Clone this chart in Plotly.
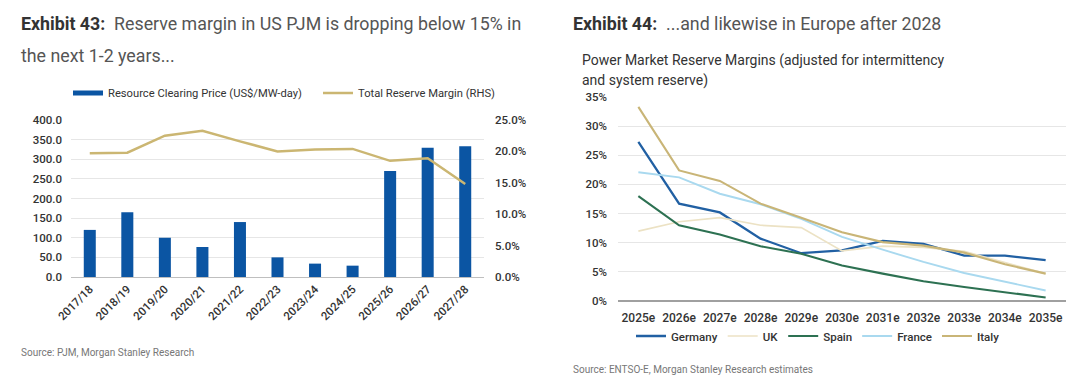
import plotly.graph_objects as go

# ---- Exhibit 43 data ----
years_pjm = ["2017/18", "2018/19", "2019/20", "2020/21", "2021/22", "2022/23",
             "2023/24", "2024/25", "2025/26", "2026/27", "2027/28"]
clearing_price = [120.0, 164.8, 100.0, 76.5, 140.0, 50.0, 34.1, 28.9, 269.9, 329.2, 333.4]
reserve_margin = [0.197, 0.198, 0.225, 0.233, 0.216, 0.200, 0.203, 0.204, 0.185, 0.189, 0.148]

# ---- Exhibit 44 data ----
years_eu = ["2025e", "2026e", "2027e", "2028e", "2029e", "2030e",
            "2031e", "2032e", "2033e", "2034e", "2035e"]
germany = [0.273, 0.167, 0.152, 0.107, 0.082, 0.087, 0.103, 0.098, 0.078, 0.078, 0.070]
uk = [0.120, 0.136, 0.143, 0.130, 0.126, 0.086, 0.094, 0.092, 0.085, 0.066, 0.047]
spain = [0.180, 0.130, 0.114, 0.094, 0.081, 0.061, 0.047, 0.034, 0.024, 0.015, 0.006]
france = [0.221, 0.212, 0.184, 0.166, 0.141, 0.110, 0.088, 0.067, 0.048, 0.033, 0.018]
italy = [0.333, 0.224, 0.206, 0.167, 0.143, 0.118, 0.101, 0.095, 0.083, 0.063, 0.047]

FONT = "Roboto"
GRID = "#e6e6e6"
TICK = "#333333"

# page has an 8px body margin: size the figure to fit inside the window
OFF = 8
W, H = 1080 - OFF, 391 - OFF


def fx(px):
    return (px - OFF) / W


def fy(py):
    return 1 - (py - OFF) / H


fig = go.Figure()

# Left chart
fig.add_trace(go.Bar(x=years_pjm, y=clearing_price, marker_color="#0b55a3", width=0.32,
                     showlegend=False, xaxis="x", yaxis="y"))
fig.add_trace(go.Scatter(x=[None], y=[None], mode="lines", line=dict(color="#0b55a3", width=5),
                         name="Resource Clearing Price (US$/MW-day)\u00a0\u00a0\u00a0\u00a0",
                         legend="legend", xaxis="x", yaxis="y"))
fig.add_trace(go.Scatter(x=years_pjm, y=reserve_margin, mode="lines",
                         line=dict(color="#cbb672", width=2.5),
                         name="Total Reserve Margin (RHS)", legend="legend",
                         xaxis="x", yaxis="y2"))

# Right chart
eu_series = [("Germany", germany, "#2160a3", 2.3), ("UK", uk, "#ece2c4", 1.7),
             ("Spain", spain, "#2d7152", 2.1), ("France", france, "#a9d9ef", 1.9),
             ("Italy", italy, "#c9b577", 2.1)]
for name, vals, col, w in eu_series:
    fig.add_trace(go.Scatter(x=years_eu, y=vals, mode="lines", name=name,
                             line=dict(color=col, width=w), legend="legend2",
                             xaxis="x2", yaxis="y3"))

tf = dict(size=11.5, color=TICK, weight=500)

fig.update_layout(
    template="none",
    width=W, height=H,
    margin=dict(l=0, r=0, t=0, b=0, autoexpand=False),
    paper_bgcolor="white", plot_bgcolor="white",
    font=dict(family=FONT, size=11, color=TICK),
    xaxis=dict(domain=[fx(71), fx(484)], type="category", range=[-0.5, 10.5],
               tickangle=-45, showgrid=False, showline=True, linecolor="#bfbfbf",
               linewidth=1, ticks="", automargin=False, tickfont=tf),
    yaxis=dict(domain=[fy(277), fy(120)], range=[0, 400], dtick=50, tickformat=".1f",
               gridcolor=GRID, zeroline=False, tickfont=tf, ticklabelstandoff=8,
               ticks="", automargin=False, showline=False),
    yaxis2=dict(domain=[fy(277), fy(120)], overlaying="y", side="right", anchor="x",
                range=[0, 0.25], dtick=0.05, tickformat=".1%", showgrid=False,
                zeroline=False, automargin=False, ticks="", showline=False,
                ticklabelstandoff=10, tickfont=tf),
    xaxis2=dict(domain=[fx(618), fx(1066)], type="category", range=[-0.5, 10.5],
                anchor="y3", showgrid=False, showline=False, ticks="", automargin=False,
                ticklabelstandoff=8, tickfont=dict(size=12, color=TICK, weight=500)),
    yaxis3=dict(domain=[fy(301), fy(97)], anchor="x2", range=[0, 0.35], dtick=0.05,
                tickformat=".0%", gridcolor=GRID, zeroline=True, zerolinecolor="#a0a0a0",
                zerolinewidth=1.5, tickfont=tf, ticks="", ticklabelstandoff=10,
                automargin=False, showline=False),
    legend=dict(orientation="h", x=fx(68), y=fy(93), xanchor="left", yanchor="middle",
                font=dict(size=11.2, color=TICK), itemwidth=30, bgcolor="rgba(0,0,0,0)",
                borderwidth=0),
    legend2=dict(orientation="h", x=fx(631), y=fy(336), xanchor="left", yanchor="middle",
                 font=dict(size=11.5, color=TICK, weight=500), itemwidth=30,
                 bgcolor="rgba(0,0,0,0)", borderwidth=0),
    showlegend=True,
)

annotations = [
    dict(x=23, y=24, text="<b>Exhibit 43:</b>  <span style='color:#555'>Reserve margin in US PJM is dropping below 15% in</span>",
         font=dict(size=17.8, color="#333")),
    dict(x=23, y=55, text="the next 1-2 years...",
         font=dict(size=17.8, color="#555")),
    dict(x=575, y=24, text="<b>Exhibit 44:</b>  <span style='color:#555'>...and likewise in Europe after 2028</span>",
         font=dict(size=17.8, color="#333")),
    dict(x=584, y=60, text="Power Market Reserve Margins (adjusted for intermittency",
         font=dict(size=14, color="#333")),
    dict(x=584, y=80, text="and system reserve)",
         font=dict(size=14, color="#333")),
    dict(x=23, y=352, text="Source: PJM, Morgan Stanley Research",
         font=dict(size=10, color="#777")),
    dict(x=575, y=369, text="Source: ENTSO-E, Morgan Stanley Research estimates",
         font=dict(size=10, color="#777")),
]
for a in annotations:
    px_x, px_y = a.pop("x"), a.pop("y")
    a.update(xref="paper", yref="paper", x=fx(px_x - 4), y=fy(px_y),
             xanchor="left", yanchor="middle", align="left", showarrow=False)
    fig.add_annotation(**a)

fig.write_html("out.html")
